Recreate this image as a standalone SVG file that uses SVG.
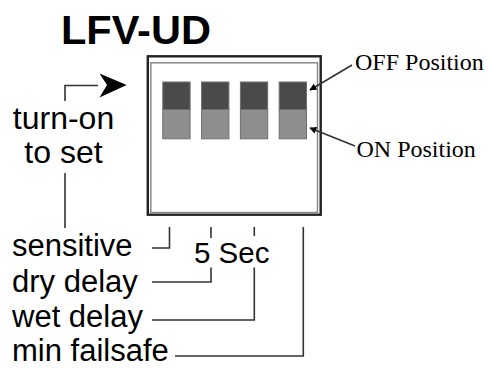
<svg xmlns="http://www.w3.org/2000/svg" width="489" height="368" viewBox="0 0 489 368">
<defs>
<style>
.sans{font-family:"Liberation Sans",Arial,Helvetica,sans-serif;fill:#000}
.lbl{font-size:31px}
.serif{font-family:"Liberation Serif","Times New Roman",serif;font-size:24px;fill:#000}
.ln{fill:none;stroke:#333;stroke-width:1.6}
.off{fill:#4a4a4a;stroke:#6e6e6e;stroke-width:1}
.on{fill:#8e8e8e;stroke:#6e6e6e;stroke-width:1}
</style>
<marker id="ah" viewBox="0 0 10 10" refX="9" refY="5" markerWidth="9" markerHeight="7" markerUnits="userSpaceOnUse" orient="auto">
<path d="M0,0 L10,5 L0,10 Z" fill="#000"/>
</marker>
</defs>
<rect width="489" height="368" fill="#fff"/>
<g id="title"><text class="sans" x="61" y="43.5" font-size="41.5" font-weight="bold">LFV-UD</text></g>
<g id="dip-switch">
<rect x="147.8" y="56.3" width="172.9" height="158.4" fill="#fff" stroke="#222" stroke-width="2.4"/>
<rect x="150.8" y="62.8" width="166.7" height="149.7" fill="none" stroke="#888" stroke-width="1.5"/>
<rect class="off" x="162.8" y="82" width="27.3" height="27.5"/><rect class="on" x="162.8" y="109.5" width="27.3" height="29.3"/>
<rect class="off" x="201.6" y="82" width="27.3" height="27.5"/><rect class="on" x="201.6" y="109.5" width="27.3" height="29.3"/>
<rect class="off" x="240.4" y="82" width="27.3" height="27.5"/><rect class="on" x="240.4" y="109.5" width="27.3" height="29.3"/>
<rect class="off" x="279.2" y="82" width="27.3" height="27.5"/><rect class="on" x="279.2" y="109.5" width="27.3" height="29.3"/>
</g>
<g id="turn-on"><text class="sans" font-size="32" text-anchor="middle"><tspan x="63.5" y="129">turn-on</tspan><tspan x="63.5" y="163">to set</tspan></text></g>
<g id="off-label"><text class="serif" x="355" y="69.5">OFF Position</text></g>
<g id="on-label"><text class="serif" x="356.5" y="157">ON Position</text></g>
<g id="sensitive"><text class="sans lbl" x="12" y="256">sensitive</text></g>
<g id="dry-delay"><text class="sans lbl" x="12" y="291.5">dry delay</text></g>
<g id="wet-delay"><text class="sans lbl" x="12" y="327">wet delay</text></g>
<g id="min-failsafe"><text class="sans lbl" x="12" y="361">min failsafe</text></g>
<g id="five-sec"><text class="sans" font-size="29.5" x="194" y="263">5 Sec</text></g>
<g id="connectors">
<path class="ln" d="M65,101 V85.5 H98"/>
<path d="M126.7,85 L99.5,73.5 L107,85 L99.5,97.5 Z" fill="#000"/>
<path class="ln" d="M65,173 V228"/>
<path class="ln" d="M352,65 L310,90" stroke="#000" marker-end="url(#ah)"/>
<path class="ln" d="M355,146 L310,128" stroke="#000" marker-end="url(#ah)"/>
<path class="ln" d="M169.5,227 V248 H152"/>
<path class="ln" d="M211,227 V238"/>
<path class="ln" d="M211,267.5 V282 H152"/>
<path class="ln" d="M254.3,227 V236"/>
<path class="ln" d="M254.3,267.5 V320 H152"/>
<path class="ln" d="M303.3,227 V356 H175"/>
</g>
</svg>
